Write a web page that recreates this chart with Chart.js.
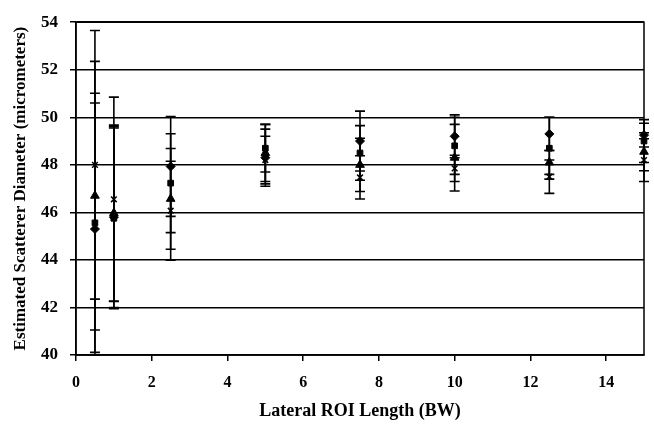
<!DOCTYPE html>
<html lang="en">
<head>
    <meta charset="UTF-8">
    <title>Estimated Scatterer Diameter</title>
    <script src="https://cdn.jsdelivr.net/npm/chart.js"></script>
    <style>
        html, body { margin: 0; padding: 0; background: #fff; overflow: hidden; }
        .graph { width: 654px; height: 434px; }
    </style>
</head>
<body>
    <div class="graph">
        <canvas id="canvas_chart" width="654" height="434"></canvas>
    </div>
<script>
    // data
    const xValues = [0.5, 1, 2.5, 5, 7.5, 10, 12.5, 15];
    const diamondValues = [45.3, 45.8, 47.93, 48.3, 49.0, 49.2, 49.3, 49.25];
    const diamondErr = [5.3, 3.8, 2.1, 1.2, 1.26, 0.9, 0.7, 0.5];
    const squareValues = [45.56, 45.75, 47.23, 48.7, 48.5, 48.8, 48.7, 49.0];
    const squareErr = [5.45, 3.8, 2.08, 1.0, 1.15, 1.2, 1.3, 0.9];
    const triangleValues = [46.7, 45.97, 46.57, 48.5, 48.0, 48.3, 48.1, 48.55];
    const triangleErr = [5.65, 3.7, 2.12, 1.2, 1.12, 1.4, 0.5, 0.8];
    const crossValues = [48.0, 46.55, 46.07, 48.2, 47.47, 47.85, 47.5, 48.2];
    const crossErr = [5.65, 4.3, 2.08, 1.0, 0.91, 0.55, 0.7, 0.9];
    const yTicks = [40, 42, 44, 46, 48, 50, 52, 54];
    const xTicks = [0, 2, 4, 6, 8, 10, 12, 14];

    const fonte = 'Liberation Serif';

    function montarSerie(label, valores, erros, estilo, raio) {
        const pontos = [];
        for (let i = 0; i < xValues.length; i++) {
            pontos.push({ x: xValues[i], y: valores[i], err: erros[i] });
        }
        return {
            label: label,
            data: pontos,
            showLine: false,
            pointStyle: estilo,
            pointRadius: raio,
            pointBackgroundColor: '#000',
            pointBorderColor: '#000',
            pointBorderWidth: estilo === 'crossRot' ? 1.5 : 1,
            clip: false
        };
    }

    // error bars drawn through the scales
    const errorBars = {
        id: 'errorBars',
        beforeDatasetsDraw(chart) {
            const ctx = chart.ctx;
            const sx = chart.scales.x, sy = chart.scales.y;
            ctx.save();
            ctx.strokeStyle = '#000';
            ctx.lineWidth = 1.6;
            chart.data.datasets.forEach(ds => {
                ds.data.forEach(p => {
                    const px = sx.getPixelForValue(p.x);
                    const top = sy.getPixelForValue(p.y + p.err);
                    const bot = sy.getPixelForValue(p.y - p.err);
                    ctx.beginPath();
                    ctx.moveTo(px, top); ctx.lineTo(px, bot);
                    ctx.moveTo(px - 5, top); ctx.lineTo(px + 5, top);
                    ctx.moveTo(px - 5, bot); ctx.lineTo(px + 5, bot);
                    ctx.stroke();
                });
            });
            ctx.restore();
        }
    };

    const moldura = {
        id: 'moldura',
        afterDraw(chart) {
            const a = chart.chartArea;
            const ctx = chart.ctx;
            ctx.save();
            ctx.strokeStyle = '#000';
            ctx.lineWidth = 1.5;
            ctx.strokeRect(a.left, a.top, a.right - a.left, a.bottom - a.top);
            ctx.restore();
        }
    };

    new Chart(document.getElementById('canvas_chart'), {
        type: 'scatter',
        data: {
            datasets: [
                montarSerie('Diamond', diamondValues, diamondErr, 'rectRot', 4.5),
                montarSerie('Square', squareValues, squareErr, 'rect', 4),
                montarSerie('Triangle', triangleValues, triangleErr, 'triangle', 5),
                montarSerie('Cross', crossValues, crossErr, 'crossRot', 4)
            ]
        },
        plugins: [errorBars, moldura],
        options: {
            responsive: false,
            animation: false,
            layout: { padding: { top: 21, right: 10, left: 0, bottom: 0 } },
            plugins: { legend: { display: false }, tooltip: { enabled: false } },
            scales: {
                x: {
                    type: 'linear',
                    min: 0,
                    max: 15,
                    afterBuildTicks: s => { s.ticks = xTicks.map(v => ({ value: v })); },
                    afterFit: s => { s.height = 79; },
                    grid: { drawOnChartArea: false, drawTicks: true, tickLength: 6, color: '#000', lineWidth: 1.5 },
                    border: { color: '#000', width: 1.5 },
                    ticks: { color: '#000', padding: 12, font: { family: fonte, size: 16, weight: 'bold' } },
                    title: {
                        display: true,
                        text: 'Lateral ROI Length (BW)',
                        color: '#000',
                        padding: { top: 4, bottom: 12 },
                        font: { family: fonte, size: 18, weight: 'bold' }
                    }
                },
                y: {
                    min: 40,
                    max: 54,
                    afterBuildTicks: s => { s.ticks = yTicks.map(v => ({ value: v })); },
                    afterFit: s => { s.width = 76; },
                    grid: { color: '#000', lineWidth: 1.5, tickLength: 6 },
                    border: { color: '#000', width: 1.5 },
                    ticks: { color: '#000', padding: 12, font: { family: fonte, size: 17, weight: 'bold' } },
                    title: {
                        display: true,
                        text: 'Estimated Scatterer Diameter (micrometers)',
                        color: '#000',
                        padding: { top: 10, bottom: 0 },
                        font: { family: fonte, size: 17, weight: 'bold' }
                    }
                }
            }
        }
    });
</script>
</body>
</html>
